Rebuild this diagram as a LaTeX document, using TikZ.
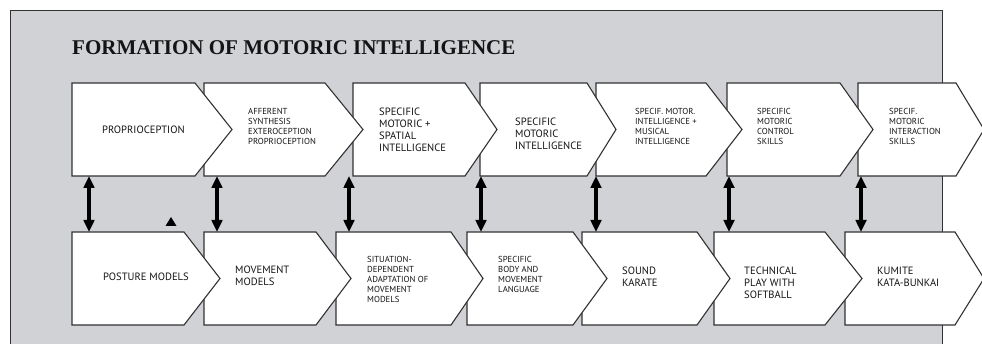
\documentclass[tikz,border=0pt]{standalone}
\usepackage{fontspec}
\setmainfont{Liberation Serif}
\newfontfamily\lblfont{PT Sans}
\usetikzlibrary{arrows.meta}
\definecolor{bggray}{RGB}{208,210,214}
\definecolor{edgec}{RGB}{50,50,50}
\definecolor{ink}{RGB}{20,20,20}
\tikzset{
  chevron/.style={draw=edgec, line width=1.1pt, fill=white, line join=miter},
  bigtxt/.style={anchor=west, inner sep=0pt, align=left, font=\lblfont\fontsize{10.6}{12}\selectfont, text=ink},
  smalltxt/.style={anchor=west, inner sep=0pt, align=left, font=\lblfont\fontsize{8.7}{10}\selectfont, text=ink},
  link/.style={line width=3.4pt, draw=black, {Triangle[width=10.5pt,length=12pt]}-{Triangle[width=10.5pt,length=12pt]}},
}
\newcommand\chev[5]{\draw[chevron] (#1,#4) -- (#2,#4) -- (#3,{(#4+#5)/2}) -- (#2,#5) -- (#1,#5) -- cycle;}
\begin{document}
\begin{tikzpicture}[x=1pt,y=-1pt]
\clip (0,0) rectangle (982,344);
\fill[white] (0,0) rectangle (982,344);
% background panel
\fill[bggray] (10,11) rectangle (942.7,360);
\draw[edgec, line width=1pt] (10,360) -- (10,11) -- (942.7,11) -- (942.7,360);
% title
\node[anchor=base west, inner sep=0pt, font=\bfseries\fontsize{21}{24}\selectfont, text=ink] (title) at (72,55) {FORMATION OF MOTORIC INTELLIGENCE};
% top row chevrons (right to left so earlier ones lie on top)
\chev{858}{956}{984}{83}{176}
\chev{727}{840}{873}{83}{176}
\chev{596}{706}{742}{83}{176}
\chev{480}{587}{616}{83}{176}
\chev{353}{465}{497}{83}{176}
\chev{204}{325}{363}{83}{176}
\chev{72}{195}{232}{83}{176}
% bottom row chevrons
\chev{845}{955}{984}{232}{325}
\chev{714}{825}{862}{232}{325}
\chev{582}{697}{730}{232}{325}
\chev{467}{573}{607}{232}{325}
\chev{336}{451}{483}{232}{325}
\chev{204}{316}{351}{232}{325}
\chev{72}{184}{220}{232}{325}
% top row texts
\node[bigtxt] (t1) at (102,130) {PROPRIOCEPTION};
\node[smalltxt] (t2) at (248,126) {AFFERENT\\SYNTHESIS\\EXTEROCEPTION\\PROPRIOCEPTION};
\node[bigtxt] (t3) at (379,129.5) {SPECIFIC\\MOTORIC +\\SPATIAL\\INTELLIGENCE};
\node[bigtxt] (t4) at (515,133.5) {SPECIFIC\\MOTORIC\\INTELLIGENCE};
\node[smalltxt] (t5) at (635,126) {SPECIF. MOTOR.\\INTELLIGENCE +\\MUSICAL\\INTELLIGENCE};
\node[smalltxt] (t6) at (757,126) {SPECIFIC\\MOTORIC\\CONTROL\\SKILLS};
\node[smalltxt] (t7) at (889,126) {SPECIF.\\MOTORIC\\INTERACTION\\SKILLS};
% bottom row texts
\node[bigtxt] (b1) at (103,277) {POSTURE MODELS};
\node[bigtxt] (b2) at (235,276) {MOVEMENT\\MODELS};
\node[smalltxt] (b3) at (367,279) {SITUATION-\\DEPENDENT\\ADAPTATION OF\\MOVEMENT\\MODELS};
\node[smalltxt] (b4) at (498,274) {SPECIFIC\\BODY AND\\MOVEMENT\\LANGUAGE};
\node[bigtxt] (b5) at (622,276.5) {SOUND\\KARATE};
\node[bigtxt] (b6) at (744,283) {TECHNICAL\\PLAY WITH\\SOFTBALL};
\node[bigtxt] (b7) at (877,276.5) {KUMITE\\KATA-BUNKAI};
% arrow end points
\foreach \i/\x in {1/89,2/217,3/349,4/481,5/596,6/729,7/861}{
  \coordinate (up\i) at (\x,176);
  \coordinate (dn\i) at (\x,232);
}
\foreach \i in {1,...,7}{ \draw[link] (up\i) -- (dn\i); }
% small marker triangle
\fill[black] (165.5,226) -- (176.5,226) -- (171,217) -- cycle;
\end{tikzpicture}
\end{document}
